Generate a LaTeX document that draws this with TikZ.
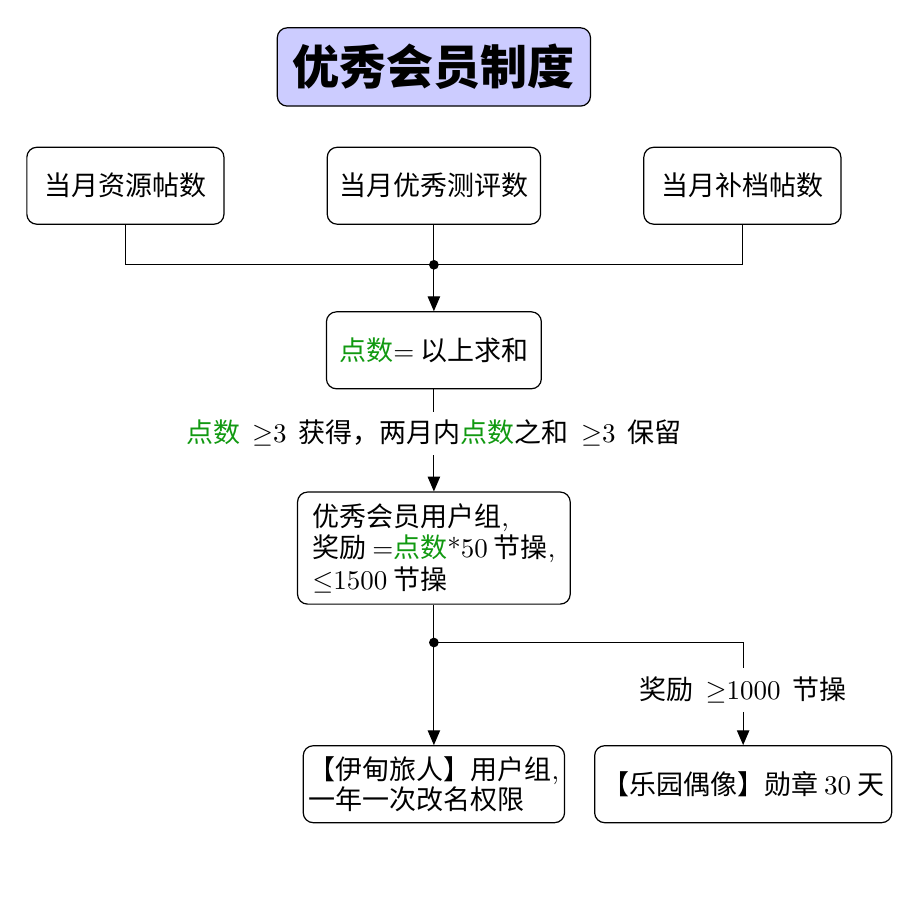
\documentclass[tikz,border=0pt]{standalone}
\usepackage{fontspec}
\newfontfamily\cjk{Noto Sans CJK SC}
\usepackage{xcolor}
\definecolor{cTitle}{HTML}{CCCCFF}
\definecolor{cPoint}{HTML}{119911}
\usepackage{tikz}
\usetikzlibrary{arrows.meta, positioning, calc}
\newcommand{\pts}{\textcolor{cPoint}{点数}}
\newcommand{\lm}[1]{{\rmfamily #1}}
\newcommand{\widesp}{\spaceskip=4.5pt plus 1pt\relax}
\tikzset{
  cell/.style  = {rectangle, draw=black, rounded corners=3.7pt,
                  minimum height=28.5pt, minimum width=#1,
                  align=center, font=\cjk, line width=0.45pt},
  cell/.default = 73pt,
  note/.style  = {font=\cjk\widesp, inner sep=3pt},
  arr/.style   = {-{Triangle[length=5.5pt,width=4.6pt]}, line width=0.45pt},
  wire/.style  = {line width=0.45pt},
}

\begin{document}
\begin{tikzpicture}

  \node[cell=116pt, minimum height=29pt, fill=cTitle,
        font=\cjk\bfseries\fontsize{17.4}{20}\selectfont] (title) {优秀会员制度};
  \useasboundingbox ($(title.center)+(-160.7pt,24.8pt)$) rectangle ++(340pt,-333.3pt);

  \node[cell=79pt, below=14.8pt of title]  (eval) {当月优秀测评数};
  \node[cell=73pt, left=37.8pt of eval]    (res)  {当月资源帖数};
  \node[cell=73pt, right=37.8pt of eval]   (fix)  {当月补档帖数};

  \node[cell=79.6pt, below=32pt of eval] (sum)  {\pts\lm{=} 以上求和};
  \node[cell=101pt, minimum height=41.5pt, align=left,
        font=\cjk\fontsize{10}{11.7}\selectfont, below=37.8pt of sum] (vip)
        {优秀会员用户组\lm{,}\\奖励 \lm{=}\pts\lm{*50} 节操\lm{,}\\$\leq$\lm{1500} 节操};

  \node[cell=96pt, align=left, inner xsep=2pt, font=\cjk\fontsize{10}{11}\selectfont,
        below=52pt of vip] (eden) {【伊甸旅人】用户组\lm{,}\\一年一次改名权限};
  \node[cell=110pt, inner xsep=2.5pt, right=10.7pt of eden] (idol)
        {【乐园偶像】勋章 \lm{30} 天};

  \node[note] (gain)  at ($(vip.north)+(0,21.5pt)$)
        {\pts{} $\geq$\lm{3} 获得，两月内\pts 之和 $\geq$\lm{3} 保留};
  \node[note] (bonus) at ($(idol.north)+(0,20.4pt)$)
        {奖励 $\geq$\lm{1000} 节操};

  \coordinate (jn)  at ($(eval.south)+(0,-14.8pt)$);
  \coordinate (jn2) at ($(vip.south)+(0,-14pt)$);

  \draw[wire] (res.south) |- (jn) -| (fix.south);
  \draw[wire] (eval.south) -- (jn);
  \draw[arr]  (jn) -- (sum);
  \fill (jn) circle (1.8pt);

  \draw[wire] (sum) -- (gain);
  \draw[arr]  (gain) -- (vip);

  \draw[wire] (vip.south) -- (jn2);
  \draw[arr]  (jn2) -- (eden);
  \draw[wire] (jn2) -| (bonus.north);
  \draw[arr]  (bonus) -- (idol);
  \fill (jn2) circle (1.8pt);

\end{tikzpicture}
\end{document}
